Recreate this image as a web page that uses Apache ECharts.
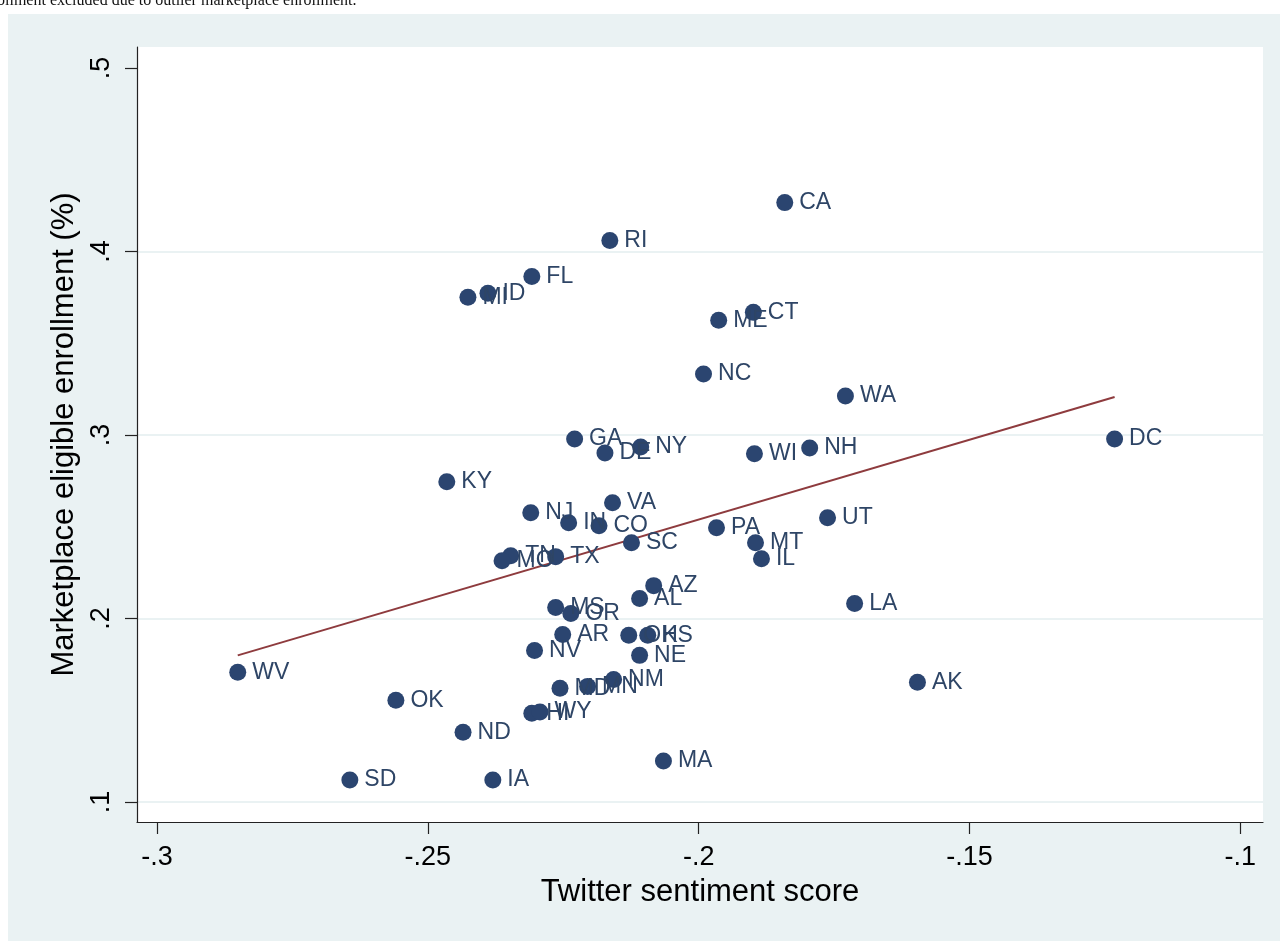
<!DOCTYPE html>
<html>
<head>
<meta charset="utf-8">
<script src="https://cdn.jsdelivr.net/npm/echarts@6/dist/echarts.min.js"></script>
<style>
  html, body { margin: 0; padding: 0; background: #fff; }
  #chart { width: 1280px; height: 941px; }
</style>
</head>
<body>
<div id="chart"></div>
<script>
// states, Twitter sentiment score (x), marketplace eligible enrollment (y)
var states = ['CA','RI','FL','MI','ID','CT','ME','NC','WA','DC',
              'GA','DE','NY','WI','NH','KY','VA','NJ','IN','CO',
              'UT','PA','SC','MT','IL','TN','MO','TX','AZ','AL',
              'LA','MS','OR','AR','OH','KS','NV','NE','WV','NM',
              'MN','MD','AK','OK','HI','WY','ND','MA','SD','IA'];
var sentiment = [-0.1841,-0.2164,-0.2308,-0.2426,-0.2389,-0.1899,-0.1963,-0.1991,-0.1729,-0.1232,
                 -0.2229,-0.2173,-0.2107,-0.1897,-0.1795,-0.2465,-0.2159,-0.2310,-0.2240,-0.2184,
                 -0.1762,-0.1967,-0.2124,-0.1895,-0.1884,-0.2347,-0.2363,-0.2264,-0.2083,-0.2109,
                 -0.1712,-0.2264,-0.2236,-0.2251,-0.2129,-0.2094,-0.2303,-0.2109,-0.2851,-0.2157,
                 -0.2205,-0.2256,-0.1596,-0.2559,-0.2308,-0.2293,-0.2435,-0.2065,-0.2644,-0.2380];
var enrollment = [0.4266,0.4060,0.3864,0.3750,0.3772,0.3668,0.3625,0.3332,0.3212,0.2978,
                  0.2978,0.2902,0.2935,0.2897,0.2929,0.2745,0.2630,0.2576,0.2522,0.2505,
                  0.2549,0.2495,0.2413,0.2413,0.2326,0.2342,0.2315,0.2337,0.2179,0.2109,
                  0.2082,0.2060,0.2027,0.1913,0.1908,0.1908,0.1826,0.1799,0.1707,0.1668,
                  0.1630,0.1620,0.1652,0.1554,0.1484,0.1490,0.1380,0.1223,0.1120,0.1120];

// fitted line end points
var fitX = [-0.2851, -0.1232];
var fitY = [0.1799, 0.3207];

var xTicks = [-0.3, -0.25, -0.2, -0.15, -0.1];
var yTicks = [0.1, 0.2, 0.3, 0.4, 0.5];
var yGrid = [0.1, 0.2, 0.3, 0.4];

function stataFmt(v) {
    var s = String(Math.round(v * 100) / 100);
    return s.replace('0.', '.');
}

var myChart = echarts.init(document.getElementById('chart'));

var pts = [];
for (var i = 0; i < states.length; i++) {
    pts.push({name: states[i], value: [sentiment[i], enrollment[i]]});
}
var fit = [];
for (var j = 0; j < fitX.length; j++) {
    fit.push([fitX[j], fitY[j]]);
}
var gridLines = yGrid.map(function (v) { return {yAxis: v}; });

var option = {
    backgroundColor: '#ffffff',
    animation: false,
    graphic: [
        {type: 'rect', left: 8, top: 14, z: -10,
         shape: {width: 1272, height: 927}, style: {fill: '#EAF2F3'}},
        {type: 'text', left: -3, top: -7,
         style: {text: 'ollment excluded due to outlier marketplace enrollment.',
                 font: '16px "Liberation Serif", "DejaVu Serif", serif', fill: '#111'}}
    ],
    grid: {
        left: 137, top: 47, right: 17, bottom: 119,
        show: true, backgroundColor: '#ffffff', borderWidth: 0
    },
    xAxis: {
        type: 'value',
        min: -0.3037, max: -0.0958,
        name: 'Twitter sentiment score',
        nameLocation: 'middle', nameGap: 55,
        nameTextStyle: {fontSize: 31, color: '#000', fontFamily: 'Liberation Sans'},
        axisLine: {show: true, onZero: false, lineStyle: {color: '#222', width: 1.2}},
        axisTick: {show: true, length: 12, lineStyle: {color: '#222', width: 1.2},
                   customValues: xTicks},
        axisLabel: {color: '#000', fontSize: 27, margin: 22, fontFamily: 'Liberation Sans',
                    customValues: xTicks, formatter: stataFmt},
        splitLine: {show: false}
    },
    yAxis: {
        type: 'value',
        min: 0.0891, max: 0.5114,
        name: 'Marketplace eligible enrollment (%)',
        nameLocation: 'middle', nameGap: 56,
        nameTextStyle: {fontSize: 31, color: '#000', fontFamily: 'Liberation Sans'},
        axisLine: {show: true, onZero: false, lineStyle: {color: '#222', width: 1.2}},
        axisTick: {show: true, length: 12, lineStyle: {color: '#222', width: 1.2},
                   customValues: yTicks},
        axisLabel: {color: '#000', fontSize: 27, margin: 22, rotate: 90,
                    fontFamily: 'Liberation Sans',
                    customValues: yTicks, formatter: stataFmt},
        splitLine: {show: false}
    },
    series: [
        {
            name: 'fit',
            type: 'line',
            data: fit,
            symbol: 'none',
            lineStyle: {color: '#8E3B3E', width: 2},
            markLine: {
                silent: true, symbol: 'none', label: {show: false},
                lineStyle: {color: '#EAF2F3', width: 2, type: 'solid'},
                data: gridLines, z: 0
            },
            z: 1
        },
        {
            name: 'states',
            type: 'scatter',
            data: pts,
            symbolSize: 17,
            itemStyle: {color: '#2B4570', opacity: 1},
            label: {
                show: true, position: 'right', distance: 6,
                formatter: '{b}', color: '#2E4566',
                fontSize: 23, fontFamily: 'Liberation Sans'
            },
            labelLayout: {hideOverlap: false},
            z: 2
        }
    ]
};

myChart.setOption(option);
window.addEventListener('resize', function () {
    myChart.resize();
});
</script>
</body>
</html>
